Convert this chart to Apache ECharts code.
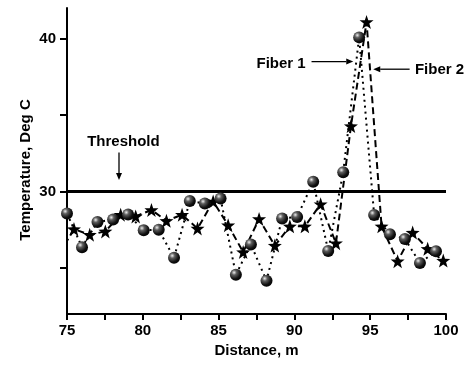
<!DOCTYPE html>
<html>
<head>
<meta charset="utf-8">
<script src="https://cdn.jsdelivr.net/npm/echarts@6/dist/echarts.min.js"></script>
<style>html,body{margin:0;padding:0;background:#fff}#c{width:466px;height:368px}</style>
</head>
<body>
<div id="c"></div>
<script>
// Fiber 1 (spheres, dotted)
const fiber1X = [75.0, 75.99, 77.01, 78.04, 79.03, 80.06, 81.05, 82.06, 83.10, 84.09, 85.13, 86.14, 87.13, 88.16, 89.19, 90.18, 91.24, 92.23, 93.22, 94.27, 95.26, 96.30, 97.29, 98.28, 99.34];
const fiber1T = [28.57, 26.37, 28.01, 28.17, 28.50, 27.47, 27.51, 25.67, 29.38, 29.22, 29.55, 24.57, 26.55, 24.18, 28.24, 28.34, 30.64, 26.12, 31.27, 40.08, 28.47, 27.22, 26.90, 25.34, 26.10];
// Fiber 2 (stars, dashed)
const fiber2X = [74.48, 75.46, 76.50, 77.53, 78.54, 79.53, 80.57, 81.56, 82.59, 83.61, 84.64, 85.63, 86.62, 87.67, 88.71, 89.70, 90.69, 91.73, 92.74, 93.73, 94.76, 95.75, 96.81, 97.80, 98.79, 99.82];
const fiber2T = [25.9, 27.55, 27.18, 27.40, 28.49, 28.38, 28.80, 28.09, 28.49, 27.59, 29.36, 27.80, 26.05, 28.21, 26.47, 27.73, 27.73, 29.18, 26.63, 34.28, 41.09, 27.73, 25.45, 27.32, 26.26, 25.49];
const thresholdT = 30;
const xTicks = [75, 77.5, 80, 82.5, 85, 87.5, 90, 92.5, 95, 97.5, 100];
const xLabels = [75, 80, 85, 90, 95, 100];
const yTicks = [25, 30, 35, 40];
const yLabels = [30, 40];
const xRange = [75, 100];
const yRange = [22, 42];

const FONT = 'Arial, "Liberation Sans", sans-serif';
const STAR = 'path://M50 0 L61.76 33.82 L97.55 34.55 L69.02 56.18 L79.39 90.45 L50 70 L20.61 90.45 L30.98 56.18 L2.45 34.55 L38.24 33.82 Z';
const ball = {
  type: 'radial', x: 0.35, y: 0.32, r: 0.75,
  colorStops: [{offset: 0, color: '#eeeeee'}, {offset: 0.28, color: '#5e5e5e'}, {offset: 0.7, color: '#111'}, {offset: 1, color: '#000'}]
};

const chart = echarts.init(document.getElementById('c'), null, {renderer: 'canvas'});
const option = {
  animation: false,
  backgroundColor: '#fff',
  grid: {left: 67, right: 20, top: 8, bottom: 54},
  xAxis: {
    type: 'value', min: xRange[0], max: xRange[1],
    name: 'Distance, m', nameLocation: 'middle', nameGap: 25,
    nameTextStyle: {fontFamily: FONT, fontWeight: 'bold', fontSize: 15, color: '#000'},
    axisLine: {lineStyle: {color: '#000', width: 2}},
    axisTick: {customValues: xTicks, length: 6, lineStyle: {color: '#000', width: 2}},
    axisLabel: {customValues: xLabels, margin: 9, fontFamily: FONT, fontWeight: 'bold', fontSize: 15, color: '#000'},
    splitLine: {show: false}
  },
  yAxis: {
    type: 'value', min: yRange[0], max: yRange[1],
    name: 'Temperature, Deg C', nameLocation: 'middle', nameGap: 34, nameMoveOverlap: false,
    nameTextStyle: {fontFamily: FONT, fontWeight: 'bold', fontSize: 15, color: '#000', padding: [0, 18, 0, 0]},
    axisLine: {show: true, lineStyle: {color: '#000', width: 2}},
    axisTick: {customValues: yTicks, length: 7, lineStyle: {color: '#000', width: 2}},
    axisLabel: {customValues: yLabels, margin: 11, fontFamily: FONT, fontWeight: 'bold', fontSize: 15, color: '#000'},
    splitLine: {show: false}
  },
  series: [
    {
      name: 'Threshold', type: 'line', data: [[xRange[0], thresholdT], [xRange[1], thresholdT]],
      symbol: 'none', lineStyle: {color: '#000', width: 3}, z: 1
    },
    {
      name: 'Fiber 1', type: 'line', data: fiber1X.map((x, i) => [x, fiber1T[i]]),
      symbol: 'circle', symbolSize: 12,
      itemStyle: {color: ball, borderWidth: 0},
      lineStyle: {color: '#000', width: 2, type: [2, 4]}, z: 3
    },
    {
      name: 'Fiber 2', type: 'line', data: fiber2X.map((x, i) => [x, fiber2T[i]]),
      symbol: STAR, symbolSize: 14,
      itemStyle: {color: '#000', borderWidth: 0},
      lineStyle: {color: '#000', width: 2, type: [7, 4]}, z: 2
    }
  ]
};
chart.setOption(option);

// annotations in data coordinates
const notes = [
  {text: 'Threshold', at: [78.72, 33.22], align: 'center'},
  {text: 'Fiber 1', at: [89.12, 38.36], align: 'center'},
  {text: 'Fiber 2', at: [97.95, 37.96], align: 'left'}
];
const arrows = [
  {from: [78.43, 32.55], to: [78.43, 30.76]},
  {from: [91.13, 38.5], to: [93.88, 38.5]},
  {from: [97.6, 38.0], to: [95.2, 38.0]}
];
const px = p => chart.convertToPixel({gridIndex: 0}, p);
const elements = [];
notes.forEach(n => {
  const p = px(n.at);
  elements.push({type: 'text', x: p[0], y: p[1], style: {text: n.text, fill: '#000', font: 'bold 15px ' + FONT, textAlign: n.align, textVerticalAlign: 'middle'}, z: 10});
});
arrows.forEach(a => {
  const s = px(a.from), e = px(a.to);
  const dx = e[0] - s[0], dy = e[1] - s[1];
  const L = Math.hypot(dx, dy), ux = dx / L, uy = dy / L;
  const hl = 7, hw = 3;
  const bx = e[0] - ux * hl, by = e[1] - uy * hl;
  elements.push({type: 'line', shape: {x1: s[0], y1: s[1], x2: bx, y2: by}, style: {stroke: '#000', lineWidth: 1.3}, z: 10});
  elements.push({type: 'polygon', shape: {points: [[e[0], e[1]], [bx - uy * hw, by + ux * hw], [bx + uy * hw, by - ux * hw]]}, style: {fill: '#000'}, z: 10});
});
chart.setOption({graphic: elements});
</script>
</body>
</html>
